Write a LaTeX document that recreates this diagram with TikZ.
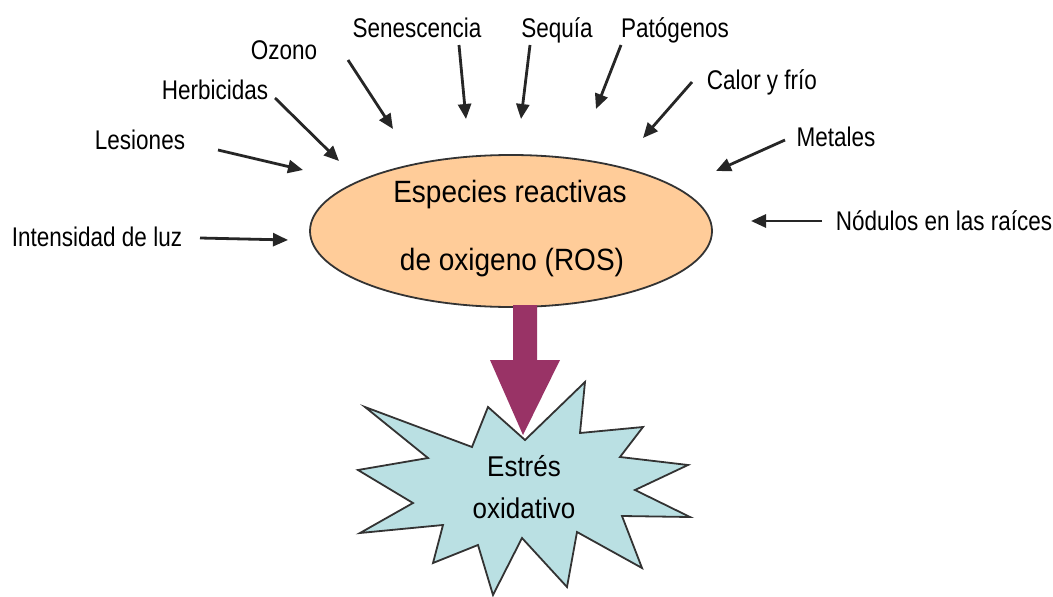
\documentclass[tikz,border=0pt]{standalone}
\usepackage{fontspec}
\setmainfont{Liberation Sans}
\usetikzlibrary{shapes.geometric,arrows.meta}
\definecolor{rosfill}{RGB}{255,204,153}
\definecolor{starfill}{RGB}{186,224,227}
\definecolor{bigarrow}{RGB}{153,51,102}
\newcommand{\tallx}[1]{\scalebox{1}[1.2]{#1}}
\begin{document}
\begin{tikzpicture}[x=1pt,y=-1pt,
  lbl/.style={inner sep=0pt,font=\fontsize{22.5}{24}\selectfont},
  inarrow/.style={line width=2.8pt,draw=black!85,-{Triangle[length=15pt,width=13pt]}},
  rostext/.style={inner sep=0pt,font=\fontsize{28}{30}\selectfont},
  startext/.style={inner sep=0pt,font=\fontsize{26}{28}\selectfont}]
\useasboundingbox (0,0) rectangle (1053,597);
% central ellipse
\node[ellipse,draw=black!80,line width=1.8pt,fill=rosfill,
      minimum width=402pt,minimum height=152pt,inner sep=0pt] (ros) at (511,231) {};
\node[rostext] (ros1) at (510,195) {\scalebox{1}[1.1]{Especies reactivas}};
\node[rostext] (ros2) at (512,263) {\scalebox{1}[1.1]{de oxigeno (ROS)}};
% starburst
\draw[draw=black!80,line width=1.8pt,fill=starfill,line join=miter]
  (525,440) -- (585,382) -- (580,433) -- (643,427) -- (620,457) -- (688,465)
  -- (635,490) -- (690,517) -- (622,516) -- (642,568) -- (577,532) -- (567,587)
  -- (522,538) -- (493,595) -- (478,545) -- (433,563) -- (443,525) -- (360,533)
  -- (413,503) -- (358,470) -- (428,458) -- (365,407) -- (472,447) -- (488,407) -- cycle;
\node[startext] (est1) at (524,466) {\scalebox{1}[1.1]{Estrés}};
\node[startext] (est2) at (524,508) {\scalebox{1}[1.1]{oxidativo}};
% purple arrow
\fill[bigarrow]
  (513,305) -- (537,305) -- (537,360) -- (560,360) -- (523,435) -- (490,360) -- (513,360) -- cycle;
% labels
\node[lbl] (luz) at (97,237) {\tallx{Intensidad de luz}};
\node[lbl] (les) at (140,140) {\tallx{Lesiones}};
\node[lbl] (her) at (215,90) {\tallx{Herbicidas}};
\node[lbl] (ozo) at (284,50) {\tallx{Ozono}};
\node[lbl] (sen) at (417,28) {\tallx{Senescencia}};
\node[lbl] (seq) at (557,30) {\tallx{Sequía}};
\node[lbl] (pat) at (675,30) {\tallx{Patógenos}};
\node[lbl] (cal) at (762,82) {\tallx{Calor y frío}};
\node[lbl] (met) at (836,137) {\tallx{Metales}};
\node[lbl] (nod) at (944,221) {\tallx{Nódulos en las raíces}};
% arrow end points
\coordinate (luzA) at (200,238); \coordinate (luzB) at (288,240);
\coordinate (lesA) at (218,150); \coordinate (lesB) at (303,170);
\coordinate (herA) at (275,98);  \coordinate (herB) at (339,161);
\coordinate (ozoA) at (348,60);  \coordinate (ozoB) at (393,129);
\coordinate (senA) at (459,45);  \coordinate (senB) at (466,119);
\coordinate (seqA) at (530,45);  \coordinate (seqB) at (521,119);
\coordinate (patA) at (621,45);  \coordinate (patB) at (596,109);
\coordinate (calA) at (692,82);  \coordinate (calB) at (643,138);
\coordinate (metA) at (785,140); \coordinate (metB) at (716,171);
\coordinate (nodA) at (822,221); \coordinate (nodB) at (751,221);
\foreach \n in {luz,les,her,ozo,sen,seq,pat,cal,met,nod}
  \draw[inarrow] (\n A) -- (\n B);
\end{tikzpicture}
\end{document}
